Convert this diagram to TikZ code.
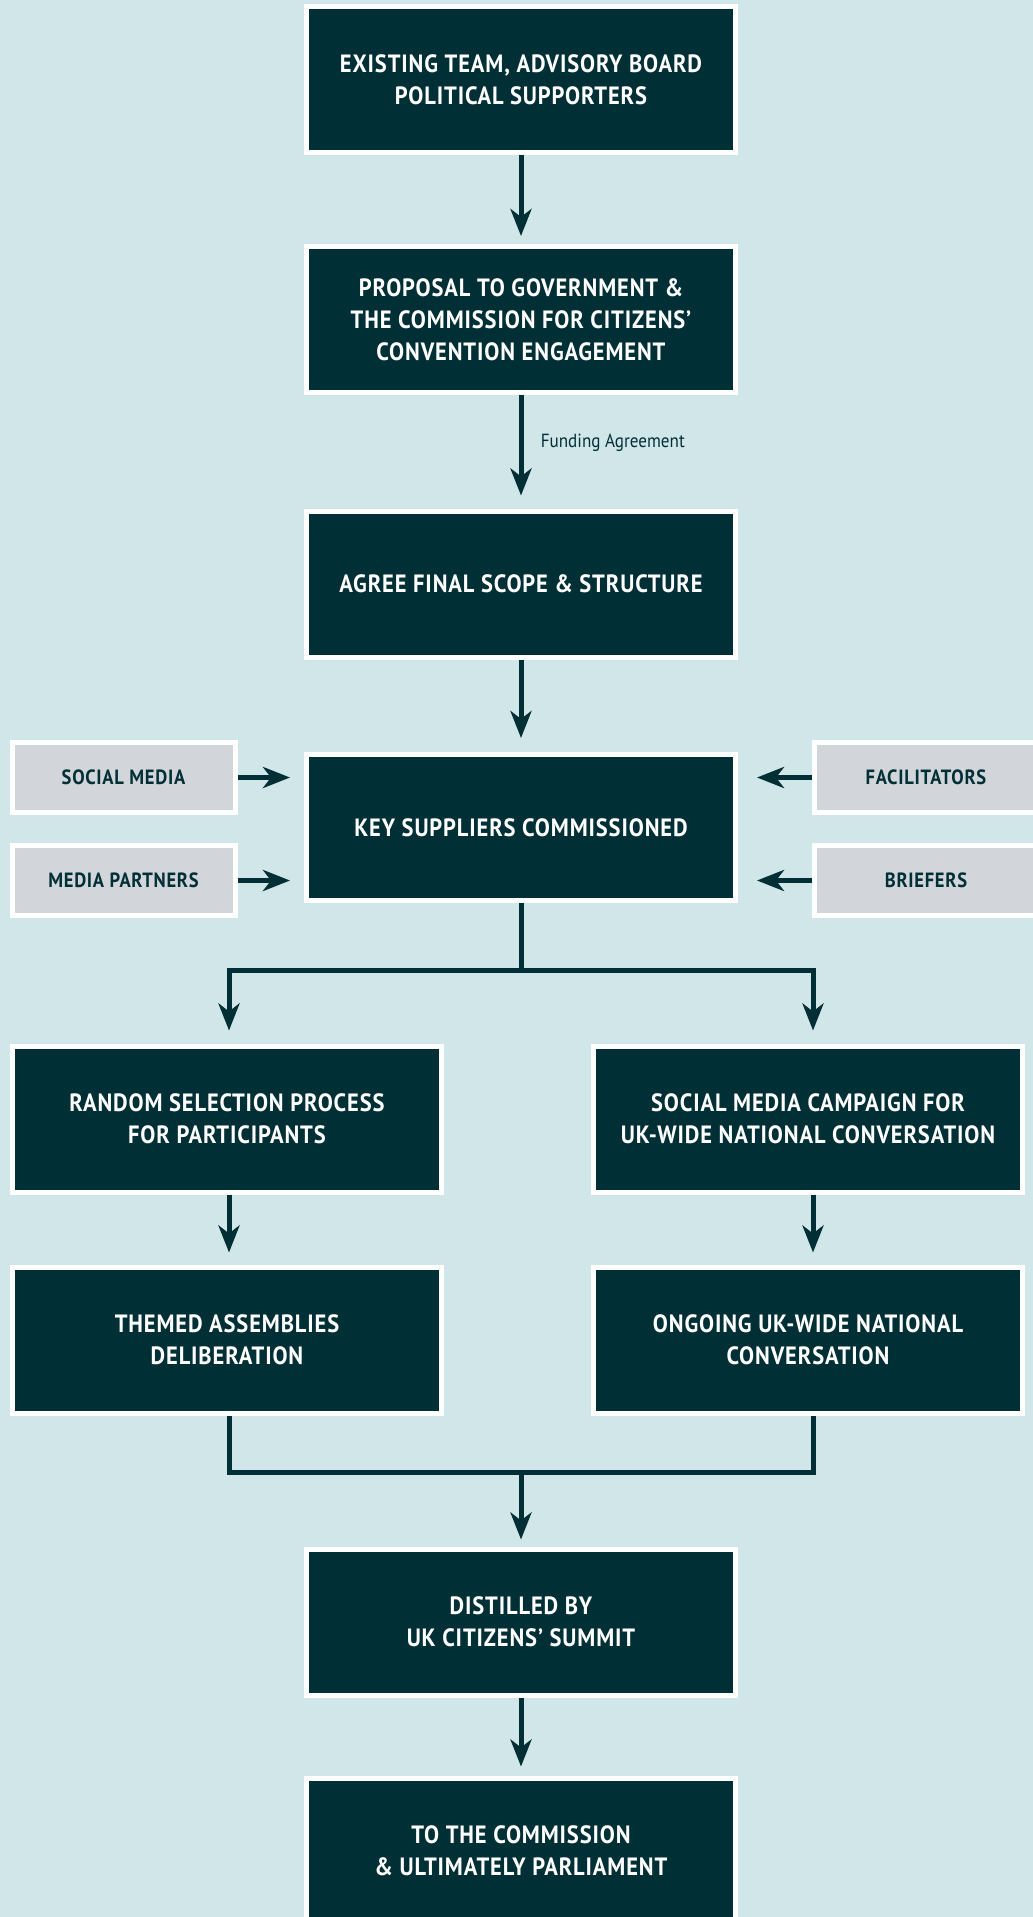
\documentclass[tikz,border=0pt]{standalone}
\usepackage{fontspec}
\usepackage{tikz}
\usetikzlibrary{positioning, calc, arrows.meta}
\newfontfamily\narrowfont{PT Sans}[FakeStretch=0.9]
\newfontfamily\boxfont{PT Sans}[FakeStretch=0.9, LetterSpace=3.5]

\definecolor{bgteal}{HTML}{D1E6E8}
\definecolor{darkteal}{HTML}{012F36}
\definecolor{lightgray}{HTML}{D2D5DA}

\tikzset{
    stepbox/.style={draw=white, fill=darkteal, line width=5pt, minimum width=429pt, minimum height=146pt,
        align=center, text=white, font=\boxfont\bfseries\fontsize{25}{32}\selectfont},
    sidebox/.style={draw=white, fill=lightgray, line width=5pt, minimum width=223pt, minimum height=70pt,
        text=darkteal, font=\boxfont\bfseries\fontsize{20.6}{22}\selectfont},
    link/.style={draw=darkteal, line width=5pt},
    flow/.style={link, -{Stealth[length=27pt, width=21pt, inset=8pt]}}
}

\begin{document}
\begin{tikzpicture}[x=1pt, y=-1pt]
    % Page and background
    \clip (0,0) rectangle (1033,1917);
    \fill[bgteal] (0,0) rectangle (1033,1917);

    % Main column
    \node[stepbox] (team) at (521,79.5) {EXISTING TEAM, ADVISORY BOARD\\POLITICAL SUPPORTERS};
    \node[stepbox] (proposal) at (521,319.5) {PROPOSAL TO GOVERNMENT \&\\THE COMMISSION FOR CITIZENS’\\CONVENTION ENGAGEMENT};
    \node[stepbox] (scope) at (521,584) {AGREE FINAL SCOPE \& STRUCTURE};
    \node[stepbox] (suppliers) at (521,827.5) {KEY SUPPLIERS COMMISSIONED};

    % Suppliers feeding in
    \node[sidebox] (social) at (123.5,777.5) {SOCIAL MEDIA};
    \node[sidebox] (partners) at (123.5,880.5) {MEDIA PARTNERS};
    \node[sidebox] (facil) at (926,777.5) {FACILITATORS};
    \node[sidebox] (briefers) at (926,880.5) {BRIEFERS};

    % Two branches
    \node[stepbox] (selection) at (227,1119) {RANDOM SELECTION PROCESS\\FOR PARTICIPANTS};
    \node[stepbox] (campaign) at (808,1119) {SOCIAL MEDIA CAMPAIGN FOR\\UK-WIDE NATIONAL CONVERSATION};
    \node[stepbox] (assemblies) at (227,1340) {THEMED ASSEMBLIES\\DELIBERATION};
    \node[stepbox] (ongoing) at (808,1340) {ONGOING UK-WIDE NATIONAL\\CONVERSATION};

    % Closing steps
    \node[stepbox] (summit) at (521,1622) {DISTILLED BY\\UK CITIZENS’ SUMMIT};
    \node[stepbox] (parliament) at (521,1851) {TO THE COMMISSION\\\& ULTIMATELY PARLIAMENT};

    % Arrows down the main column
    \draw[flow, shorten >=8pt] (team) -- (proposal);
    \draw[flow, shorten >=13pt] (proposal) -- node[pos=0.42, right=14pt, text=darkteal,
        font=\narrowfont\fontsize{19}{22}\selectfont] {Funding Agreement} (scope);
    \draw[flow, shorten >=14pt] (scope) -- (suppliers);

    % Side arrows
    \draw[flow, shorten >=14pt] (social.east) -- (social.east -| suppliers.west);
    \draw[flow, shorten >=14pt] (partners.east) -- (partners.east -| suppliers.west);
    \draw[flow, shorten >=19pt] (facil.west) -- (facil.west -| suppliers.east);
    \draw[flow, shorten >=19pt] (briefers.west) -- (briefers.west -| suppliers.east);

    % Split
    \coordinate (split) at ([yshift=-67pt]suppliers.south);
    \draw[link] (suppliers) -- (split);
    \draw[flow, shorten >=13pt] (split) -| ([xshift=2pt]selection.north);
    \draw[flow, shorten >=13pt] (split) -| ([xshift=5pt]campaign.north);
    \draw[flow, shorten >=12pt] ([xshift=2pt]selection.south) -- ([xshift=2pt]assemblies.north);
    \draw[flow, shorten >=12pt] ([xshift=5pt]campaign.south) -- ([xshift=5pt]ongoing.north);

    % Merge
    \coordinate (merge) at ([yshift=74pt]summit.north);
    \draw[link] ([xshift=2pt]assemblies.south) |- (merge) -| ([xshift=5pt]ongoing.south);
    \draw[flow, shorten >=7pt] (merge) -- (summit);
    \draw[flow, shorten >=9pt] (summit) -- (parliament);
\end{tikzpicture}
\end{document}
